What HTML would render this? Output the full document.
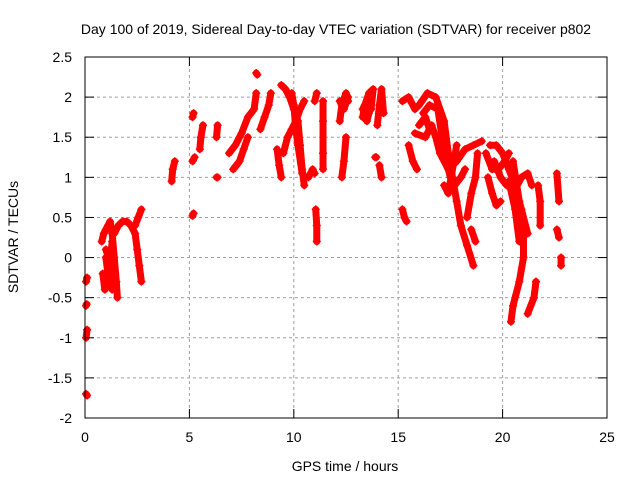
<!DOCTYPE html>
<html><head><meta charset="utf-8"><style>
body{margin:0;background:#fff}
svg{display:block;font-family:"Liberation Sans",sans-serif;font-size:14px}
</style></head><body>
<svg id="chart" width="640" height="480">
<text x="336" y="34" text-anchor="middle">Day 100 of 2019, Sidereal Day-to-day VTEC variation (SDTVAR) for receiver p802</text>
<text x="345" y="471" text-anchor="middle">GPS time / hours</text>
<text transform="translate(18,237) rotate(-90)" text-anchor="middle">SDTVAR / TECUs</text>
<g id="grid"></g>
<g id="marks"></g>
<rect x="85" y="57" width="522" height="361" fill="none" stroke="#000"/>
<g id="ticks"></g>
</svg>
<script>
const xTicks=[0,5,10,15,20,25];
const yTicks=[-2,-1.5,-1,-0.5,0,0.5,1,1.5,2,2.5];
const yTickLabels=["-2","-1.5","-1","-0.5","0","0.5","1","1.5","2","2.5"];
const track01=[[0.05,-0.3],[0.1,-0.25]];
const track02=[[0.05,-0.6],[0.08,-0.58]];
const track03=[[0.05,-1.0],[0.1,-0.9]];
const track04=[[0.05,-1.7],[0.1,-1.72]];
const track05=[[0.8,0.2],[0.9,0.3],[1.0,0.35],[1.1,0.4],[1.2,0.45],[1.3,0.3],[1.4,0.0],[1.5,-0.3],[1.55,-0.5]];
const track06=[[0.85,-0.2],[0.95,-0.4],[1.1,-0.3],[1.2,-0.1],[1.3,0.2]];
const track07=[[1.4,0.3],[1.6,0.4],[1.8,0.45],[2.0,0.45],[2.2,0.4],[2.4,0.3],[2.5,0.1],[2.6,-0.1],[2.7,-0.3]];
const track08=[[2.4,0.4],[2.55,0.5],[2.7,0.6]];
const track09=[[4.15,0.95],[4.2,1.1],[4.3,1.2]];
const track10=[[5.15,1.2],[5.25,1.25]];
const track11=[[5.15,1.75],[5.2,1.8]];
const track12=[[5.15,0.52],[5.2,0.55]];
const track13=[[5.5,1.35],[5.55,1.5],[5.65,1.65]];
const track14=[[6.3,1.0],[6.35,1.0]];
const track15=[[6.3,1.5],[6.35,1.65]];
const track16=[[6.9,1.3],[7.2,1.4],[7.5,1.55],[7.8,1.75],[8.1,1.85],[8.2,2.05]];
const track17=[[7.1,1.1],[7.4,1.2],[7.6,1.35],[7.8,1.5]];
const track18=[[8.4,1.6],[8.6,1.75],[8.8,1.9],[8.9,2.05]];
const track19=[[8.2,2.3],[8.25,2.28]];
const track20=[[9.4,2.15],[9.6,2.1],[9.8,2.0],[10.0,1.85],[10.2,1.7],[10.3,1.4],[10.4,1.1],[10.5,0.9]];
const track21=[[9.5,1.3],[9.7,1.5],[9.9,1.6],[10.1,1.7],[10.3,1.85],[10.5,1.95]];
const track22=[[9.2,1.35],[9.3,1.15],[9.4,1.0]];
const track23=[[10.7,1.0],[10.9,1.1],[11.0,1.05]];
const track24=[[11.0,1.95],[11.1,2.05]];
const track25=[[11.05,0.6],[11.1,0.4],[11.1,0.2]];
const track26=[[11.4,1.95],[11.4,1.7],[11.4,1.3],[11.4,1.1]];
const track27=[[12.2,1.7],[12.3,1.9],[12.5,2.05],[12.6,1.95]];
const track28=[[12.3,1.0],[12.4,1.2],[12.5,1.5]];
const track29=[[13.3,1.75],[13.4,1.9],[13.6,2.05],[13.8,2.1],[13.7,1.85]];
const track30=[[14.0,1.65],[14.1,1.9],[14.2,2.1],[14.3,1.8]];
const track31=[[14.1,1.15],[14.2,1.0]];
const track32=[[13.9,1.25],[13.95,1.25]];
const track33=[[15.2,0.6],[15.3,0.5],[15.4,0.45]];
const track34=[[15.2,1.95],[15.5,2.0],[15.8,1.85],[16.0,1.9],[16.4,2.05],[16.8,2.0],[17.2,1.7],[17.4,1.3],[17.6,1.0],[17.8,0.7],[18.0,0.4],[18.3,0.15],[18.6,-0.1]];
const track35=[[15.5,1.4],[15.7,1.2],[15.9,1.1]];
const track36=[[15.8,1.55],[16.3,1.5],[16.6,1.65],[16.8,1.5],[17.0,1.3],[17.4,1.1],[17.8,1.2],[18.2,1.35],[18.6,1.4],[19.0,1.45]];
const track37=[[18.3,0.5],[18.5,0.8],[18.7,1.0],[18.8,1.3]];
const track38=[[19.4,1.4],[19.7,1.4],[20.0,1.3],[20.3,1.1],[20.6,0.9],[20.9,0.6],[21.2,0.3]];
const track39=[[19.6,1.2],[19.9,1.0],[20.2,0.9],[20.6,0.85],[20.9,1.0],[21.2,1.05],[21.4,0.9]];
const track40=[[19.3,1.0],[19.5,0.8],[19.7,0.65],[19.9,0.7]];
const track41=[[20.5,1.2],[20.8,0.7],[21.0,0.3],[21.0,0.0],[20.8,-0.3],[20.5,-0.6],[20.4,-0.8]];
const track42=[[21.2,-0.7],[21.5,-0.5],[21.6,-0.3]];
const track43=[[21.7,0.9],[21.8,0.7],[21.8,0.4]];
const track44=[[22.6,1.05],[22.7,0.7]];
const track45=[[22.6,0.35],[22.7,0.25]];
const track46=[[22.8,0.0],[22.8,-0.1]];
const track47=[[17.2,0.9],[17.4,0.8],[17.8,1.4]];
const track48=[[18.5,0.35],[18.7,0.2]];
const track49=[[1.0,0.0],[1.1,-0.2],[1.3,-0.4],[1.25,-0.1],[1.0,0.1]];
const track50=[[9.9,2.05],[10.0,1.9],[10.1,1.6],[10.2,1.4],[10.4,1.05]];
const track51=[[12.2,1.95],[12.4,1.85],[12.6,2.0]];
const track52=[[13.3,1.85],[13.5,1.95],[13.6,1.8],[13.5,1.7]];
const track53=[[16.2,1.8],[16.5,1.9],[16.9,1.85],[17.1,1.5],[17.3,1.2],[17.5,1.0],[17.7,0.9],[18.0,1.0],[18.2,1.1]];
const track54=[[16.0,1.65],[16.3,1.75],[16.5,1.6]];
const track55=[[19.2,1.3],[19.5,1.1],[19.8,1.1],[20.1,1.2],[20.3,1.3]];
const track56=[[20.3,0.95],[20.6,0.6],[20.8,0.2]];
const tracks=[track01,track02,track03,track04,track05,track06,track07,track08,track09,track10,track11,track12,track13,track14,track15,track16,track17,track18,track19,track20,track21,track22,track23,track24,track25,track26,track27,track28,track29,track30,track31,track32,track33,track34,track35,track36,track37,track38,track39,track40,track41,track42,track43,track44,track45,track46,track47,track48,track49,track50,track51,track52,track53,track54,track55,track56];
const NS="http://www.w3.org/2000/svg";
const X=t=>85+t*522/25;
const Y=v=>418-(v+2)*361/4.5;
const grid=document.getElementById('grid'),ticks=document.getElementById('ticks'),marks=document.getElementById('marks');
function el(tag,attrs,parent){const e=document.createElementNS(NS,tag);for(const k in attrs)e.setAttribute(k,attrs[k]);parent.appendChild(e);return e;}
xTicks.forEach(t=>{
 if(t>0&&t<25){const g=el('line',{x1:X(t),x2:X(t),y1:57,y2:418,stroke:'#a0a0a0','stroke-dasharray':'3,3'},grid);
 
 }
 el('line',{x1:X(t),x2:X(t),y1:418,y2:409,stroke:'#000'},ticks);
 el('line',{x1:X(t),x2:X(t),y1:57,y2:66,stroke:'#000'},ticks);
 const tx=el('text',{x:X(t),y:442,'text-anchor':'middle'},ticks);tx.textContent=t;
 
 
});
yTicks.forEach((v,i)=>{
 if(v>-2&&v<2.5){const g=el('line',{x1:85,x2:607,y1:Y(v),y2:Y(v),stroke:'#a0a0a0','stroke-dasharray':'3,3'},grid);
 
 }
 el('line',{x1:85,x2:94,y1:Y(v),y2:Y(v),stroke:'#000'},ticks);
 el('line',{x1:598,x2:607,y1:Y(v),y2:Y(v),stroke:'#000'},ticks);
 const tx=el('text',{x:72,y:Y(v)+5,'text-anchor':'end'},ticks);tx.textContent=yTickLabels[i];
 
 
});
tracks.forEach(tr=>{
 const pl=el('polyline',{points:tr.map(p=>X(p[0])+','+Y(p[1])).join(' '),fill:'none',stroke:'#ff0000','stroke-width':7,'stroke-linejoin':'round','stroke-linecap':'round'},marks);
 
 
 tr.forEach(p=>{
  const x=X(p[0]),y=Y(p[1]);
  const m=el('path',{d:`M${x-4},${y}H${x+4}M${x},${y-4}V${y+4}`,stroke:'#ff0000','stroke-width':1.5},marks);
  
  
 });
});
</script>
</body></html>
